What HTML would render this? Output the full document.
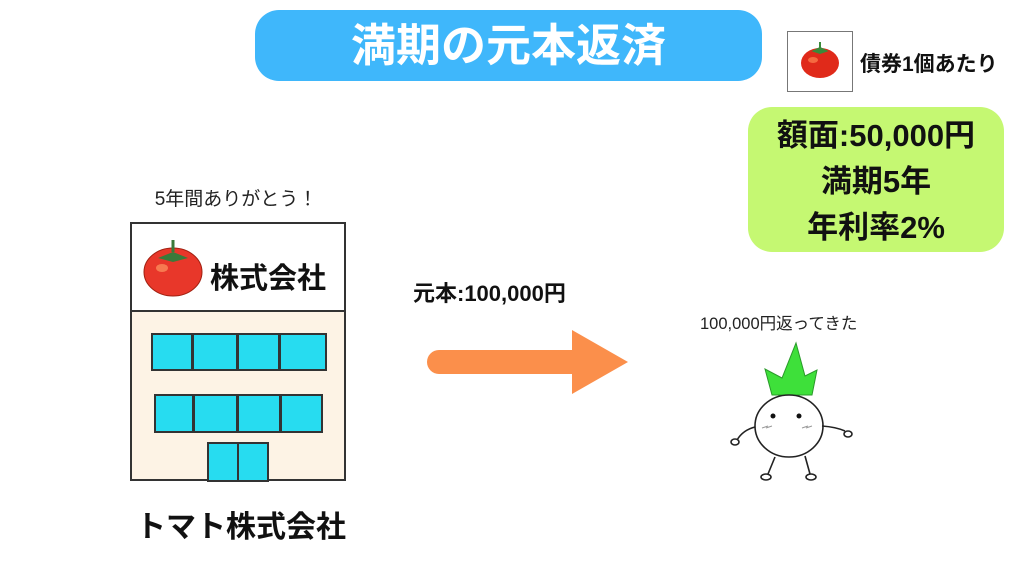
<!DOCTYPE html>
<html><head><meta charset="utf-8"><style>
body{margin:0;width:1024px;height:576px;background:#fff;position:relative;overflow:hidden;font-family:"Liberation Sans","Noto Sans CJK JP",sans-serif;}
.a{position:absolute;white-space:nowrap;}
</style></head><body>
<div class="a" style="left:255px;top:10px;width:507px;height:71px;background:#3fb7fb;border-radius:24px;"></div>
<div class="a" style="left:255px;top:10px;width:507px;height:71px;line-height:71px;text-align:center;color:#fff;font-weight:bold;font-size:45px;letter-spacing:0;">満期の元本返済</div>

<div class="a" style="left:787px;top:31px;width:66px;height:61px;border:1px solid #777;box-sizing:border-box;"></div>
<svg class="a" style="left:787px;top:31px" width="66" height="61"><ellipse cx="33" cy="32" rx="19" ry="15" fill="#e02a1a"/><ellipse cx="26" cy="29" rx="5" ry="3" fill="#f56a40"/><path d="M27 20 L33 17 L39 20 L33 22Z M33 17 L33 11" stroke="#3a8a3a" stroke-width="2" fill="#3a8a3a"/></svg>
<div class="a" style="left:860px;top:48px;font-size:21px;font-weight:bold;color:#111;">債券1個あたり</div>

<div class="a" style="left:748px;top:107px;width:256px;height:145px;background:#c5f872;border-radius:24px;"></div>
<div class="a" style="left:748px;top:113px;width:256px;text-align:center;font-size:31px;font-weight:bold;line-height:46px;color:#111;">額面:50,000円<br>満期5年<br>年利率2%</div>

<div class="a" style="left:126px;top:184px;width:220px;text-align:center;font-size:19px;color:#222;">5年間ありがとう！</div>
<div class="a" style="left:130px;top:222px;width:216px;height:259px;border:2px solid #333;box-sizing:border-box;background:#fdf3e5;"></div>
<div class="a" style="left:132px;top:224px;width:212px;height:86px;background:#fff;border-bottom:2px solid #333;"></div>
<svg class="a" style="left:140px;top:236px" width="65" height="65"><ellipse cx="33" cy="36" rx="29" ry="24" fill="#e8372a" stroke="#a02010"/><ellipse cx="22" cy="32" rx="6" ry="4" fill="#f77a50"/><path d="M18 22 L33 16 L48 22 L33 26Z" fill="#3a7a3a"/><path d="M33 16 L33 4" stroke="#3a7a3a" stroke-width="3"/></svg>
<div class="a" style="left:210px;top:255px;font-size:29px;font-weight:bold;color:#111;">株式会社</div>
<svg class="a" style="left:0;top:0" width="1024" height="576">
<g fill="#27dcf0" stroke="#333" stroke-width="2">
<rect x="152" y="334" width="40" height="36"/><rect x="193" y="334" width="44" height="36"/><rect x="238" y="334" width="41" height="36"/><rect x="280" y="334" width="46" height="36"/>
<rect x="155" y="395" width="38" height="37"/><rect x="194" y="395" width="43" height="37"/><rect x="238" y="395" width="42" height="37"/><rect x="281" y="395" width="41" height="37"/>
<rect x="208" y="443" width="30" height="38"/><rect x="238" y="443" width="30" height="38"/>
</g>
<path d="M439 350 H572 V330 L628 362 L572 394 V374 H439 A12 12 0 0 1 439 350Z" fill="#fb8f4b"/>
<path d="M772 395 L765 369 L782 378 L796 343 L805 376 L817 370 L812 395Z" fill="#3ee03a" stroke="#2a9a2a" stroke-width="1"/>
<g fill="none" stroke="#222" stroke-width="1.6">
<ellipse cx="789" cy="426" rx="34" ry="31" fill="#fff"/>
<path d="M755 427 Q743 430 737 440"/><path d="M822 426 Q836 427 845 431"/>
<path d="M775 457 L768 474"/><path d="M805 456 L810 474"/>
<ellipse cx="735" cy="442" rx="4" ry="3"/><ellipse cx="848" cy="434" rx="4" ry="3"/>
<ellipse cx="766" cy="477" rx="5" ry="3"/><ellipse cx="811" cy="477" rx="5" ry="3"/>
</g>
<circle cx="773" cy="416" r="2.5" fill="#111"/><circle cx="799" cy="416" r="2.5" fill="#111"/>
<path d="M762 428 l6 -2 M766 428 l6 -2 M802 428 l6 -2 M806 428 l6 -2" stroke="#999" stroke-width="1"/>
</svg>
<div class="a" style="left:413px;top:276px;font-size:22px;font-weight:bold;color:#111;">元本:100,000円</div>
<div class="a" style="left:700px;top:310px;font-size:16.5px;color:#222;">100,000円返ってきた</div>
<div class="a" style="left:136px;top:502px;font-size:30px;font-weight:bold;color:#111;">トマト株式会社</div>
</body></html>
